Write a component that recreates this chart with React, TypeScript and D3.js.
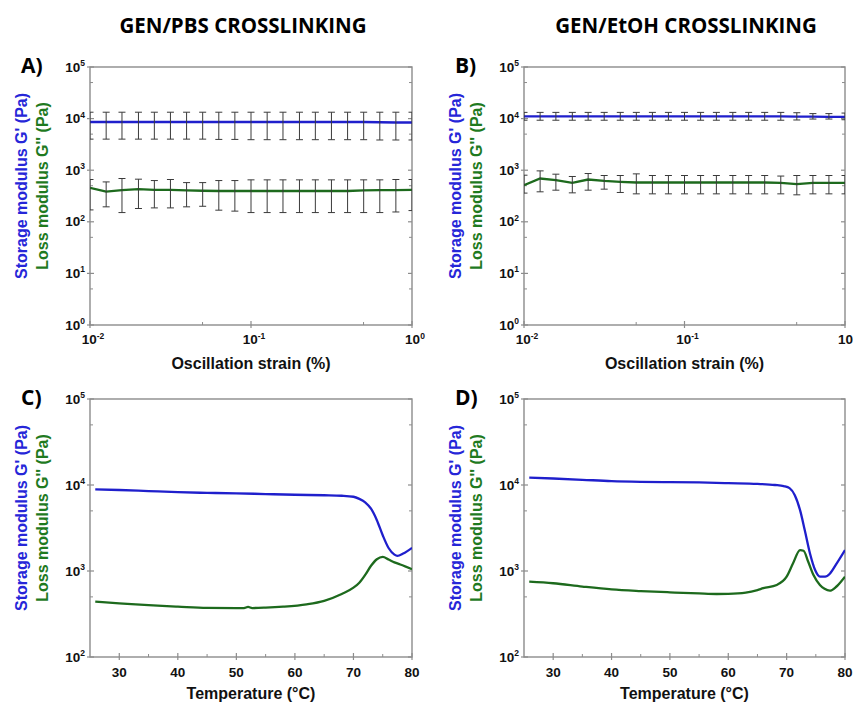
import React from 'react';
import * as d3 from 'd3';

// ---------- DATA ----------
const strain = [0.01, 0.0126, 0.0158, 0.02, 0.0251, 0.0316, 0.0398, 0.0501, 0.0631, 0.0794, 0.1, 0.126, 0.158, 0.2, 0.251, 0.316, 0.398, 0.501, 0.631, 0.794, 1.0];

// Panel A (GEN/PBS, strain sweep)
const aStorage = [8600, 8600, 8600, 8600, 8600, 8600, 8600, 8600, 8600, 8600, 8600, 8600, 8600, 8600, 8600, 8600, 8600, 8600, 8500, 8400, 8400];
const aStorageHi = [13300, 13300, 13300, 13300, 13300, 13300, 13300, 13300, 13300, 13300, 13300, 13300, 13300, 13300, 13300, 13300, 13300, 13300, 13300, 13300, 13300];
const aStorageLo = [4000, 4000, 4000, 4000, 4000, 4000, 4000, 4000, 3950, 3950, 3900, 3900, 3900, 3900, 3900, 3900, 3900, 3900, 3850, 3850, 3850];
const aLoss = [455, 385, 410, 430, 415, 415, 405, 400, 395, 395, 395, 395, 395, 395, 395, 395, 395, 405, 410, 412, 417];
const aLossHi = [660, 593, 690, 670, 630, 660, 575, 575, 630, 630, 650, 650, 650, 650, 650, 650, 650, 650, 650, 660, 660];
const aLossLo = [170, 195, 151, 181, 186, 186, 195, 200, 168, 161, 151, 151, 151, 151, 151, 151, 151, 151, 151, 155, 165];

// Panel B (GEN/EtOH, strain sweep)
const bStorage = [11000, 11000, 11000, 11000, 11000, 11000, 11000, 11000, 11000, 11000, 11000, 11000, 11000, 11000, 11000, 11000, 11000, 10900, 10900, 10800, 10800];
const bStorageHi = [13200, 13200, 13200, 13200, 13200, 13200, 13200, 13200, 13200, 13200, 13200, 13200, 13200, 13200, 13200, 13200, 13200, 13000, 12500, 12500, 12800];
const bStorageLo = [9300, 9300, 9300, 9300, 9300, 9300, 9300, 9300, 9300, 9300, 9300, 9300, 9300, 9300, 9300, 9300, 9300, 9400, 9800, 9800, 9500];
const bLoss = [513, 690, 640, 569, 660, 621, 594, 577, 577, 577, 577, 577, 577, 577, 577, 577, 570, 537, 570, 570, 570];
const bLossHi = [800, 970, 837, 755, 862, 789, 789, 849, 789, 789, 789, 789, 789, 789, 789, 789, 770, 789, 789, 789, 789];
const bLossLo = [360, 381, 410, 364, 410, 429, 370, 348, 348, 348, 348, 348, 348, 348, 348, 348, 348, 333, 348, 348, 348];

// Panel C (GEN/PBS, temperature sweep)
const cTempStorage = [25.9, 30, 35, 40, 45, 50, 55, 60, 65, 68, 70, 71, 72, 73, 74, 75, 76, 77, 77.5, 78.5, 80];
const cStorage = [8900, 8750, 8500, 8250, 8100, 8000, 7850, 7700, 7600, 7500, 7300, 6900, 6300, 5300, 3900, 2600, 1850, 1550, 1500, 1600, 1860];
const cTempLoss = [25.9, 30, 35, 40, 45, 50, 51.3, 52, 52.7, 55, 58, 62, 65, 68, 70, 71, 72, 73, 74, 75, 76, 77, 78, 80];
const cLoss = [440, 421, 400, 385, 372, 370, 371, 382, 371, 375, 385, 410, 450, 540, 640, 730, 900, 1150, 1370, 1460, 1360, 1260, 1190, 1050];

// Panel D (GEN/EtOH, temperature sweep)
const dTempStorage = [25.9, 30, 35, 40, 45, 50, 55, 60, 65, 68, 69.5, 70.5, 71.4, 72.3, 73.1, 74, 74.9, 75.7, 76.6, 77.4, 78.5, 80];
const dStorage = [12200, 11900, 11500, 11100, 10900, 10800, 10700, 10500, 10300, 10000, 9700, 9200, 7600, 5100, 3000, 1600, 1020, 860, 860, 930, 1200, 1750];
const dTempLoss = [25.9, 30, 35, 40, 45, 50, 55, 58, 60, 63, 65, 66, 68.3, 70, 71.1, 72.3, 72.9, 73.7, 74.6, 75.7, 76.5, 77.4, 78.5, 80];
const dLoss = [752, 720, 660, 612, 585, 565, 548, 540, 542, 560, 600, 631, 688, 859, 1230, 1750, 1720, 1280, 897, 688, 620, 590, 656, 859];

const strainTicks = [0.01, 0.1, 1];
const strainMinor = [0.05, 0.5];
const tempTicks = [30, 40, 50, 60, 70, 80];
const tempMinor = [35, 45, 55, 65, 75];

const titles = ['GEN/PBS CROSSLINKING', 'GEN/EtOH CROSSLINKING'];
const letters = ['A)', 'B)', 'C)', 'D)'];
const xLabels = ['Oscillation strain (%)', 'Temperature (\u00B0C)'];
const yLabelStorage = "Storage modulus G' (Pa)";
const yLabelLoss = "Loss modulus G'' (Pa)";

// ---------- STYLE ----------
const BLUE = '#1f1fcc';
const GREEN = '#1d6a1d';
const BLUE_TXT = '#2626d8';
const GREEN_TXT = '#1f7a1f';
const AXIS = '#8c8c8c';
const SANS = 'Liberation Sans, Arial, sans-serif';
const TITLE_FONT = 'Open Sans, sans-serif';

type Series = { x: number[]; y: number[]; color: string; lo?: number[]; hi?: number[] };

interface PanelProps {
  id: string;
  left: number; right: number; top: number; bottom: number;
  logX: boolean;
  xDomain: [number, number];
  yDomain: [number, number];
  series: Series[];
  letter: string;
  xLabel: string;
}

function pow10Label(v: number) {
  const e = Math.round(Math.log10(v));
  return { base: '10', exp: String(e) };
}

function Panel(p: PanelProps) {
  const { id, left, right, top, bottom } = p;
  const x: any = p.logX
    ? d3.scaleLog().domain(p.xDomain).range([left, right])
    : d3.scaleLinear().domain(p.xDomain).range([left, right]);
  const y = d3.scaleLog().domain(p.yDomain).range([bottom, top]);

  const yTicks: number[] = [];
  const yMinor: number[] = [];
  for (let e = Math.round(Math.log10(p.yDomain[0])); e <= Math.round(Math.log10(p.yDomain[1])); e++) {
    yTicks.push(Math.pow(10, e));
    if (Math.pow(10, e) * 5 < p.yDomain[1]) yMinor.push(Math.pow(10, e) * 5);
  }
  const xTicks = p.logX ? strainTicks : tempTicks;
  const xMinor = p.logX ? strainMinor : tempMinor;

  const line = d3.line<[number, number]>()
    .x(d => x(d[0]))
    .y(d => y(d[1]))
    .curve(p.logX ? d3.curveLinear : d3.curveMonotoneX);

  const midY = (top + bottom) / 2 - 10;

  return (
    <g>
      <defs>
        <clipPath id={`clip-${id}`}>
          <rect x={left} y={top} width={right - left} height={bottom - top} />
        </clipPath>
      </defs>
      {/* frame */}
      <rect x={left} y={top} width={right - left} height={bottom - top} fill="none" stroke={AXIS} strokeWidth={1.4} />
      {/* y ticks */}
      {yTicks.map(v => (
        <g key={'yt' + v}>
          <line x1={left - 3} x2={left + 4} y1={y(v)} y2={y(v)} stroke={AXIS} strokeWidth={1.2} />
          <line x1={right - 4} x2={right} y1={y(v)} y2={y(v)} stroke={AXIS} strokeWidth={1.2} />
          <text x={left - 5} y={y(v) + 4.5} textAnchor="end" fontFamily={SANS} fontWeight="bold" fontSize={13.5} fill="#111">
            {pow10Label(v).base}
            <tspan dy={-5.5} fontSize={8.5}>{pow10Label(v).exp}</tspan>
          </text>
        </g>
      ))}
      {yMinor.map(v => (
        <g key={'ym' + v}>
          <line x1={left} x2={left + 3} y1={y(v)} y2={y(v)} stroke={AXIS} strokeWidth={1} />
          <line x1={right - 3} x2={right} y1={y(v)} y2={y(v)} stroke={AXIS} strokeWidth={1} />
        </g>
      ))}
      {/* x ticks */}
      {xTicks.map(v => (
        <g key={'xt' + v}>
          <line x1={x(v)} x2={x(v)} y1={bottom - 4} y2={bottom + 3} stroke={AXIS} strokeWidth={1.2} />
          {p.logX ? (
            <text x={x(v) + 3} y={bottom + 19} textAnchor="middle" fontFamily={SANS} fontWeight="bold" fontSize={13.5} fill="#111">
              {pow10Label(v).base}
              <tspan dy={-5.5} fontSize={8.5}>{pow10Label(v).exp}</tspan>
            </text>
          ) : (
            <text x={x(v)} y={bottom + 20} textAnchor="middle" fontFamily={SANS} fontWeight="bold" fontSize={13.5} fill="#111">
              {v}
            </text>
          )}
        </g>
      ))}
      {xMinor.map(v => (
        <line key={'xm' + v} x1={x(v)} x2={x(v)} y1={bottom - 3} y2={bottom} stroke={AXIS} strokeWidth={1} />
      ))}
      {/* data */}
      <g clipPath={`url(#clip-${id})`}>
        {p.series.map((s, si) => (
          <path key={'l' + si} d={line(s.x.map((xv, i) => [xv, s.y[i]] as [number, number])) || ''} fill="none" stroke={s.color} strokeWidth={2.3} />
        ))}
        {p.series.map((s, si) =>
          s.lo && s.hi ? (
            <g key={'e' + si} stroke="#3a3a3a" strokeWidth={1}>
              {s.x.map((xv, i) => (
                <g key={i}>
                  <line x1={x(xv)} x2={x(xv)} y1={y(s.lo![i])} y2={y(s.hi![i])} />
                  <line x1={x(xv) - 3.5} x2={x(xv) + 3.5} y1={y(s.lo![i])} y2={y(s.lo![i])} />
                  <line x1={x(xv) - 3.5} x2={x(xv) + 3.5} y1={y(s.hi![i])} y2={y(s.hi![i])} />
                </g>
              ))}
            </g>
          ) : null
        )}
      </g>
      {/* axis labels */}
      <text x={(left + right) / 2} y={p.logX ? bottom + 44 : bottom + 42} textAnchor="middle" fontFamily={SANS} fontWeight="bold" fontSize={16} fill="#111">
        {p.xLabel}
      </text>
      <text transform={`translate(${left - 63},${midY}) rotate(-90)`} textAnchor="middle" fontFamily={SANS} fontWeight="bold" fontSize={16} fill={BLUE_TXT}>
        {yLabelStorage}
      </text>
      <text transform={`translate(${left - 42},${midY}) rotate(-90)`} textAnchor="middle" fontFamily={SANS} fontWeight="bold" fontSize={16} fill={GREEN_TXT}>
        {yLabelLoss}
      </text>
      <text x={left - 69} y={top + 6} fontFamily={TITLE_FONT} fontWeight="bold" fontSize={21} fill="#000">
        {p.letter}
      </text>
    </g>
  );
}

export default function App() {
  const colA = { left: 90, right: 412 };
  const colB = { left: 524, right: 845 };
  const rowTop = { top: 67, bottom: 325 };
  const rowBot = { top: 399, bottom: 657 };
  return (
    <svg width={853} height={704} style={{ position: 'absolute', left: 0, top: 0, background: '#fff' }}>
      <rect x={0} y={0} width={853} height={704} fill="#fff" />
      <text x={243} y={33} textAnchor="middle" fontFamily={TITLE_FONT} fontWeight="bold" fontSize={20.5} fill="#000">{titles[0]}</text>
      <text x={686} y={33} textAnchor="middle" fontFamily={TITLE_FONT} fontWeight="bold" fontSize={20.5} fill="#000">{titles[1]}</text>
      <Panel id="A" {...colA} {...rowTop} logX xDomain={[0.01, 1]} yDomain={[1, 1e5]} letter={letters[0]} xLabel={xLabels[0]}
        series={[
          { x: strain, y: aStorage, color: BLUE, lo: aStorageLo, hi: aStorageHi },
          { x: strain, y: aLoss, color: GREEN, lo: aLossLo, hi: aLossHi },
        ]} />
      <Panel id="B" {...colB} {...rowTop} logX xDomain={[0.01, 1]} yDomain={[1, 1e5]} letter={letters[1]} xLabel={xLabels[0]}
        series={[
          { x: strain, y: bStorage, color: BLUE, lo: bStorageLo, hi: bStorageHi },
          { x: strain, y: bLoss, color: GREEN, lo: bLossLo, hi: bLossHi },
        ]} />
      <Panel id="C" {...colA} {...rowBot} logX={false} xDomain={[25, 80]} yDomain={[100, 1e5]} letter={letters[2]} xLabel={xLabels[1]}
        series={[
          { x: cTempStorage, y: cStorage, color: BLUE },
          { x: cTempLoss, y: cLoss, color: GREEN },
        ]} />
      <Panel id="D" {...colB} {...rowBot} logX={false} xDomain={[25, 80]} yDomain={[100, 1e5]} letter={letters[3]} xLabel={xLabels[1]}
        series={[
          { x: dTempStorage, y: dStorage, color: BLUE },
          { x: dTempLoss, y: dLoss, color: GREEN },
        ]} />
    </svg>
  );
}
